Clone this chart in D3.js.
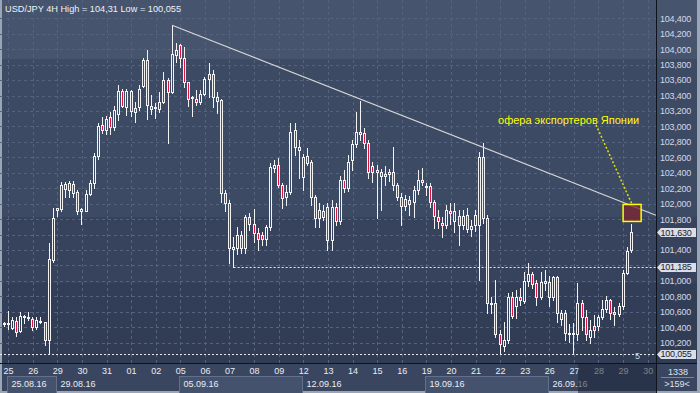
<!DOCTYPE html>
<html>
<head>
<meta charset="utf-8">
<script src="https://cdn.jsdelivr.net/npm/d3@7"></script>
<style>
  html, body { margin: 0; padding: 0; background: #9aa5b7; }
  svg { display: block; font-family: "Liberation Sans", Arial, sans-serif; }
</style>
</head>
<body>
<div class="chart"></div>
<script>
// USD/JPY 4H candles, 25.08.16 - 29.09.16
var opens = [
  100.44,100.45,100.39,100.48,100.35,100.53,100.53,100.51,100.40,100.48,
  100.47,100.24,101.27,101.92,101.93,102.19,102.18,102.26,102.15,101.90,
  101.91,102.13,102.27,102.62,103.02,102.96,103.12,102.99,103.16,103.46,
  103.25,103.46,103.24,103.25,103.52,103.86,103.27,103.25,103.22,103.32,
  103.60,103.44,103.93,104.05,103.88,103.57,103.38,103.36,103.31,103.42,
  103.61,103.68,103.38,103.34,102.14,102.01,101.41,101.42,101.59,101.42,
  101.83,101.74,101.62,101.59,101.54,101.70,102.46,102.50,102.24,102.08,
  102.15,102.95,102.74,102.35,102.62,102.54,102.09,101.81,101.90,101.96,
  101.53,101.96,101.77,102.31,102.20,102.56,102.77,102.93,102.91,102.78,
  102.49,102.41,102.41,102.38,102.38,102.41,102.24,102.09,101.97,102.05,
  102.02,102.18,102.28,102.23,102.23,102.02,101.83,101.75,101.72,101.90,
  101.77,101.84,101.72,101.85,101.67,101.72,101.72,102.61,101.82,100.71,
  100.71,100.31,100.16,100.24,100.79,100.67,100.79,100.74,101.00,101.09,
  100.97,100.79,101.00,100.99,100.79,101.05,100.51,100.58,100.32,100.32,
  100.31,100.71,100.53,100.28,100.41,100.41,100.53,100.64,100.75,100.60,
  100.57,100.67,101.10,101.40
];
var highs = [
  100.47,100.61,100.53,100.53,100.60,100.56,100.60,100.53,100.53,100.53,
  100.47,101.49,101.94,101.95,102.28,102.28,102.30,102.29,102.18,101.94,
  102.18,102.31,102.66,103.05,103.12,103.13,103.19,103.26,103.54,103.48,
  103.49,103.47,103.31,103.54,103.89,103.99,103.41,103.30,103.45,103.71,
  103.63,104.31,104.08,104.07,104.03,103.58,103.39,103.47,103.47,103.64,
  103.82,103.73,103.44,103.35,102.18,102.05,101.57,101.70,101.65,101.85,
  101.88,101.93,101.68,101.63,101.73,102.53,102.56,102.59,102.27,102.24,
  103.04,103.04,102.82,102.64,102.72,102.56,102.11,102.01,101.98,102.01,
  102.05,102.01,102.36,102.44,102.63,102.82,103.19,103.33,102.98,102.82,
  102.54,102.50,102.45,102.49,102.45,102.74,102.27,102.14,102.11,102.10,
  102.23,102.44,102.46,102.27,102.27,102.05,101.92,101.83,101.98,102.01,
  102.01,101.92,101.92,101.94,101.79,101.92,102.67,102.78,101.85,100.79,
  101.01,100.36,100.47,100.84,100.85,100.88,100.91,101.12,101.23,101.12,
  101.01,101.12,101.14,101.06,101.07,101.07,100.62,100.62,100.44,100.45,
  100.97,100.75,100.62,100.49,100.56,100.56,100.75,100.80,100.77,100.66,
  100.71,101.14,101.44,101.74
];
var lows = [
  100.42,100.38,100.38,100.29,100.34,100.45,100.50,100.36,100.38,100.45,
  100.17,100.055,101.25,101.84,101.91,102.09,102.09,102.09,101.86,101.74,
  101.90,102.11,102.20,102.58,102.91,102.90,102.90,102.95,103.08,103.25,
  103.15,103.13,103.06,103.21,103.51,103.10,103.16,103.11,103.19,103.30,
  102.79,103.43,103.83,103.77,103.51,103.26,103.13,103.28,103.29,103.41,
  103.38,103.25,103.18,102.02,101.91,101.23,101.185,101.35,101.36,101.36,
  101.66,101.51,101.40,101.46,101.46,101.66,102.41,102.21,101.94,101.98,
  102.12,102.63,102.33,102.18,102.50,101.98,101.70,101.70,101.79,101.40,
  101.40,101.73,101.74,102.15,102.17,102.43,102.74,102.82,102.72,102.33,
  102.28,101.81,101.92,102.24,102.30,102.18,102.05,101.72,101.92,101.85,
  101.83,102.12,102.24,102.11,101.96,101.69,101.69,101.57,101.69,101.74,
  101.63,101.46,101.67,101.63,101.58,101.64,101.01,101.75,100.59,100.59,
  100.28,100.07,100.09,100.20,100.52,100.52,100.69,100.72,100.94,100.91,
  100.69,100.77,100.88,100.67,100.75,100.47,100.43,100.23,100.21,100.06,
  100.23,100.36,100.23,100.19,100.28,100.36,100.51,100.60,100.51,100.43,
  100.54,100.64,101.09,101.38
];
var closes = [
  100.45,100.46,100.49,100.34,100.54,100.54,100.52,100.40,100.49,100.47,
  100.24,101.28,101.82,101.94,102.24,102.26,102.27,102.14,101.90,101.93,
  102.13,102.27,102.62,103.00,102.95,103.10,102.99,103.21,103.46,103.26,
  103.46,103.20,103.19,103.48,103.86,103.28,103.22,103.24,103.32,103.60,
  103.44,103.94,103.99,103.89,103.57,103.36,103.37,103.31,103.42,103.61,
  103.68,103.38,103.33,102.14,102.01,101.42,101.44,101.59,101.42,101.83,
  101.74,101.62,101.54,101.54,101.70,102.48,102.50,102.24,102.07,102.15,
  102.93,102.74,102.70,102.61,102.53,102.09,101.81,101.92,101.83,101.53,
  101.96,101.77,102.31,102.20,102.54,102.77,102.93,102.90,102.78,102.41,
  102.41,102.44,102.36,102.36,102.41,102.24,102.09,101.97,102.06,101.99,
  102.18,102.31,102.31,102.21,102.02,101.84,101.77,101.72,101.92,101.88,
  101.90,101.72,101.84,101.67,101.71,101.85,102.61,101.82,100.71,100.72,
  100.31,100.18,100.24,100.79,100.54,100.79,100.75,101.00,101.09,100.96,
  100.79,100.99,100.97,100.79,101.05,100.59,100.59,100.32,100.31,100.31,
  100.71,100.53,100.31,100.36,100.36,100.53,100.64,100.75,100.58,100.57,
  100.67,101.10,101.39,101.63
];

// time axis: trading days (6 candles each) and weeks
var dayLabels = ["25","26","29","30","31","01","02","05","06","07","08","09","12","13",
                 "14","15","16","19","20","21","22","23","26","27","28","29","30"];
var weekLabels = ["25.08.16","29.08.16","05.09.16","12.09.16","19.09.16","26.09.16"];
var weekStartDay = [0, 2, 7, 12, 17, 22];

// price axis
var gridPrices = [104.4,104.2,104.0,103.8,103.6,103.4,103.2,103.0,102.8,102.6,102.4,
                  102.2,102.0,101.8,101.6,101.4,101.2,101.0,100.8,100.6,100.4,100.2];
var priceTicks = [104.4,104.2,104.0,103.8,103.6,103.4,103.2,103.0,102.8,102.6,102.4,
                  102.2,102.0,101.8,101.4,101.0,100.8,100.6,100.4,100.2];
var markerPrices = [101.63, 101.185, 100.055];
var markerLabels = ["101,630", "101,185", "100,055"];

// drawn objects
var trendIdx = [41, 159];
var trendPrice = [104.31, 101.85];
var levelPrice = [101.185, 100.055];
var levelFromIdx = [56, -1];
var noteText = "офера экспортеров Японии";

var width = 700, height = 393;
var plotRight = 656, plotBottom = 363;

var candles = opens.map(function(o, i) {
  return {i: i, o: o, h: highs[i], l: lows[i], c: closes[i]};
});

var x = d3.scaleLinear().domain([0, 153]).range([4, 631.3]);
var y = d3.scaleLinear().domain([100.2, 104.4]).range([342.7, 18.3]);
var fmt = function(v) { return d3.format(".3f")(v).replace(".", ","); };

var svg = d3.select('.chart').append('svg')
  .attr('width', width).attr('height', height);

var defs = svg.append('defs');
var grad = defs.append('linearGradient').attr('id', 'bgGrad')
  .attr('gradientUnits', 'userSpaceOnUse')
  .attr('x1', 0).attr('y1', 0).attr('x2', 0).attr('y2', height);
[[0, '#47546e'], [0.15, '#47546e'], [0.151, '#3d4a64'], [0.551, '#3d4a64'],
 [0.552, '#37435d'], [0.72, '#37435d'], [0.721, '#323e57'], [1, '#303b53']]
  .forEach(function(s) { grad.append('stop').attr('offset', s[0]).attr('stop-color', s[1]); });
defs.append('clipPath').attr('id', 'plotClip')
  .append('rect').attr('x', 0).attr('y', 0).attr('width', plotRight).attr('height', plotBottom);

// frame + backgrounds
svg.append('rect').attr('x', 2).attr('y', 0).attr('width', 695).attr('height', 391)
  .attr('fill', 'url(#bgGrad)');
svg.append('rect').attr('x', 2).attr('y', plotBottom).attr('width', 695).attr('height', 28)
  .attr('fill', '#3a4660');

// grid
var grid = svg.append('g').attr('clip-path', 'url(#plotClip)');
grid.selectAll('line.h').data(gridPrices).enter().append('line')
  .attr('x1', 0).attr('x2', plotRight)
  .attr('y1', function(d) { return Math.round(y(d)) + 0.5; })
  .attr('y2', function(d) { return Math.round(y(d)) + 0.5; })
  .attr('stroke', '#56637e').attr('stroke-dasharray', '3,3');
grid.selectAll('line.v').data(dayLabels).enter().append('line')
  .attr('x1', function(d, i) { return Math.round(x(1 + 6 * i)) + 0.5; })
  .attr('x2', function(d, i) { return Math.round(x(1 + 6 * i)) + 0.5; })
  .attr('y1', 0).attr('y2', plotBottom)
  .attr('stroke', '#56637e').attr('stroke-dasharray', '3,3');

// title
svg.append('text').attr('x', 5).attr('y', 11.5)
  .attr('font-size', 9.2).attr('fill', '#eef1f6')
  .text('USD/JPY 4H High = 104,31 Low = 100,055');

var plot = svg.append('g').attr('clip-path', 'url(#plotClip)');

// level lines
plot.selectAll('line.level').data(levelPrice).enter().append('line')
  .attr('x1', function(d, i) { return levelFromIdx[i] < 0 ? 0 : x(levelFromIdx[i]); })
  .attr('x2', plotRight)
  .attr('y1', function(d) { return Math.round(y(d)) + 0.5; })
  .attr('y2', function(d) { return Math.round(y(d)) + 0.5; })
  .attr('stroke', '#e6e8ec').attr('stroke-dasharray', '2,2');

// candles
plot.selectAll('line.wick').data(candles).enter().append('line')
  .attr('x1', function(d) { return Math.floor(x(d.i)) + 0.5; })
  .attr('x2', function(d) { return Math.floor(x(d.i)) + 0.5; })
  .attr('y1', function(d) { return Math.round(y(d.h)); })
  .attr('y2', function(d) { return Math.round(y(d.l)) + 1; })
  .attr('stroke', '#f2f2f2');
plot.selectAll('rect.body').data(candles).enter().append('rect')
  .attr('x', function(d) { return Math.floor(x(d.i)) - 0.5; })
  .attr('width', 2)
  .attr('y', function(d) { return Math.round(y(Math.max(d.o, d.c))) + 0.5; })
  .attr('height', function(d) {
    return Math.max(1, Math.round(y(Math.min(d.o, d.c))) - Math.round(y(Math.max(d.o, d.c))));
  })
  .attr('fill', function(d) { return d.c < d.o ? '#dc1440' : 'url(#bgGrad)'; })
  .attr('stroke', '#f2f2f2');

// trend line
plot.append('line')
  .attr('x1', x(trendIdx[0])).attr('y1', y(trendPrice[0]))
  .attr('x2', x(trendIdx[1])).attr('y2', y(trendPrice[1]))
  .attr('stroke', '#d6d6d6').attr('stroke-width', 1.2);

// note
plot.append('line')
  .attr('x1', x(144.4)).attr('y1', y(103.02))
  .attr('x2', x(153.2)).attr('y2', y(101.99))
  .attr('stroke', '#e2e200').attr('stroke-width', 1.5).attr('stroke-dasharray', '2,2');
plot.append('rect')
  .attr('x', x(151)).attr('y', y(101.99))
  .attr('width', x(155.4) - x(151)).attr('height', y(101.77) - y(101.99))
  .attr('fill', 'rgba(128,34,46,0.72)')
  .attr('stroke', '#ffff00').attr('stroke-width', 1.5);
svg.append('text').attr('x', x(120.5)).attr('y', y(103.08))
  .attr('dominant-baseline', 'central')
  .attr('font-size', 11).attr('fill', '#ffff00')
  .text(noteText);
svg.append('text').attr('x', 635).attr('y', 356)
  .attr('dominant-baseline', 'central')
  .attr('font-size', 9).attr('fill', '#c9d0dc').text('5');

// right price axis
var yAxis = d3.axisRight(y).tickValues(priceTicks).tickFormat(fmt).tickSize(0).tickPadding(4);
var ya = svg.append('g').attr('transform', 'translate(' + plotRight + ',0)').call(yAxis);
ya.select('.domain').remove();
ya.selectAll('text').attr('font-size', 9).attr('letter-spacing', -0.2)
  .attr('fill', '#d3d9e5').attr('font-family', '"Liberation Sans", Arial, sans-serif');

// bottom time axis
var xAxis = d3.axisBottom(x)
  .tickValues(dayLabels.map(function(d, i) { return 1 + 6 * i; }))
  .tickFormat(function(d, i) { return dayLabels[i]; })
  .tickSize(0).tickPadding(5);
var xa = svg.append('g').attr('transform', 'translate(0,' + plotBottom + ')').call(xAxis);
xa.select('.domain').remove();
xa.selectAll('text').attr('font-size', 9)
  .attr('fill', '#e9edf4').attr('font-family', '"Liberation Sans", Arial, sans-serif');

// week boxes
var weeks = svg.append('g');
weekStartDay.forEach(function(d, k) {
  var x0 = Math.round(x(1 + 6 * d)) - 0.5;
  var x1 = k + 1 < weekStartDay.length ? Math.round(x(1 + 6 * weekStartDay[k + 1])) - 0.5 : 700;
  if (k % 2 === 0) {
    weeks.append('rect').attr('x', x0).attr('y', 376.5).attr('width', x1 - x0).attr('height', 20)
      .attr('fill', '#45526e').attr('stroke', '#63708c');
  }
  weeks.append('text').attr('x', x0 + 4).attr('y', 383.5)
    .attr('dominant-baseline', 'central').attr('font-size', 9).attr('fill', '#e9edf4')
    .text(weekLabels[k]);
});

// shaded tail of time axis
svg.append('rect').attr('x', x(140)).attr('y', plotBottom).attr('width', plotRight - x(140))
  .attr('height', 30).attr('fill', 'rgba(28,36,54,0.55)');

// axis lines
svg.append('line').attr('x1', 0).attr('x2', 697).attr('y1', plotBottom + 0.5).attr('y2', plotBottom + 0.5)
  .attr('stroke', '#0f131b');
svg.append('line').attr('x1', plotRight + 0.5).attr('x2', plotRight + 0.5).attr('y1', 0).attr('y2', 393)
  .attr('stroke', '#0f131b');

// price markers
var mk = svg.selectAll('g.marker').data(markerPrices).enter().append('g');
mk.append('path')
  .attr('d', function(d) {
    var cy = Math.round(y(d)) + 0.5;
    return 'M' + (plotRight + 1) + ',' + cy + 'L' + (plotRight + 5) + ',' + (cy - 4.5) +
      'L696,' + (cy - 4.5) + 'L696,' + (cy + 4.5) + 'L' + (plotRight + 5) + ',' + (cy + 4.5) + 'Z';
  })
  .attr('fill', '#d9dee7');
mk.append('text')
  .attr('x', plotRight + 4.5).attr('y', function(d) { return y(d) + 0.5; })
  .attr('dominant-baseline', 'central').attr('font-size', 9).attr('letter-spacing', -0.2)
  .attr('fill', '#1a2131')
  .text(function(d, i) { return markerLabels[i]; });

// corner box
svg.append('text').attr('x', 678).attr('y', 371.5).attr('text-anchor', 'middle')
  .attr('dominant-baseline', 'central').attr('font-size', 9).attr('fill', '#dde2ea').text('1338');
svg.append('line').attr('x1', 661).attr('x2', 694).attr('y1', 377.5).attr('y2', 377.5)
  .attr('stroke', '#7b869b');
svg.append('text').attr('x', 677).attr('y', 384).attr('text-anchor', 'middle')
  .attr('dominant-baseline', 'central').attr('font-size', 9).attr('fill', '#dde2ea').text('>159<');
</script>
</body>
</html>
